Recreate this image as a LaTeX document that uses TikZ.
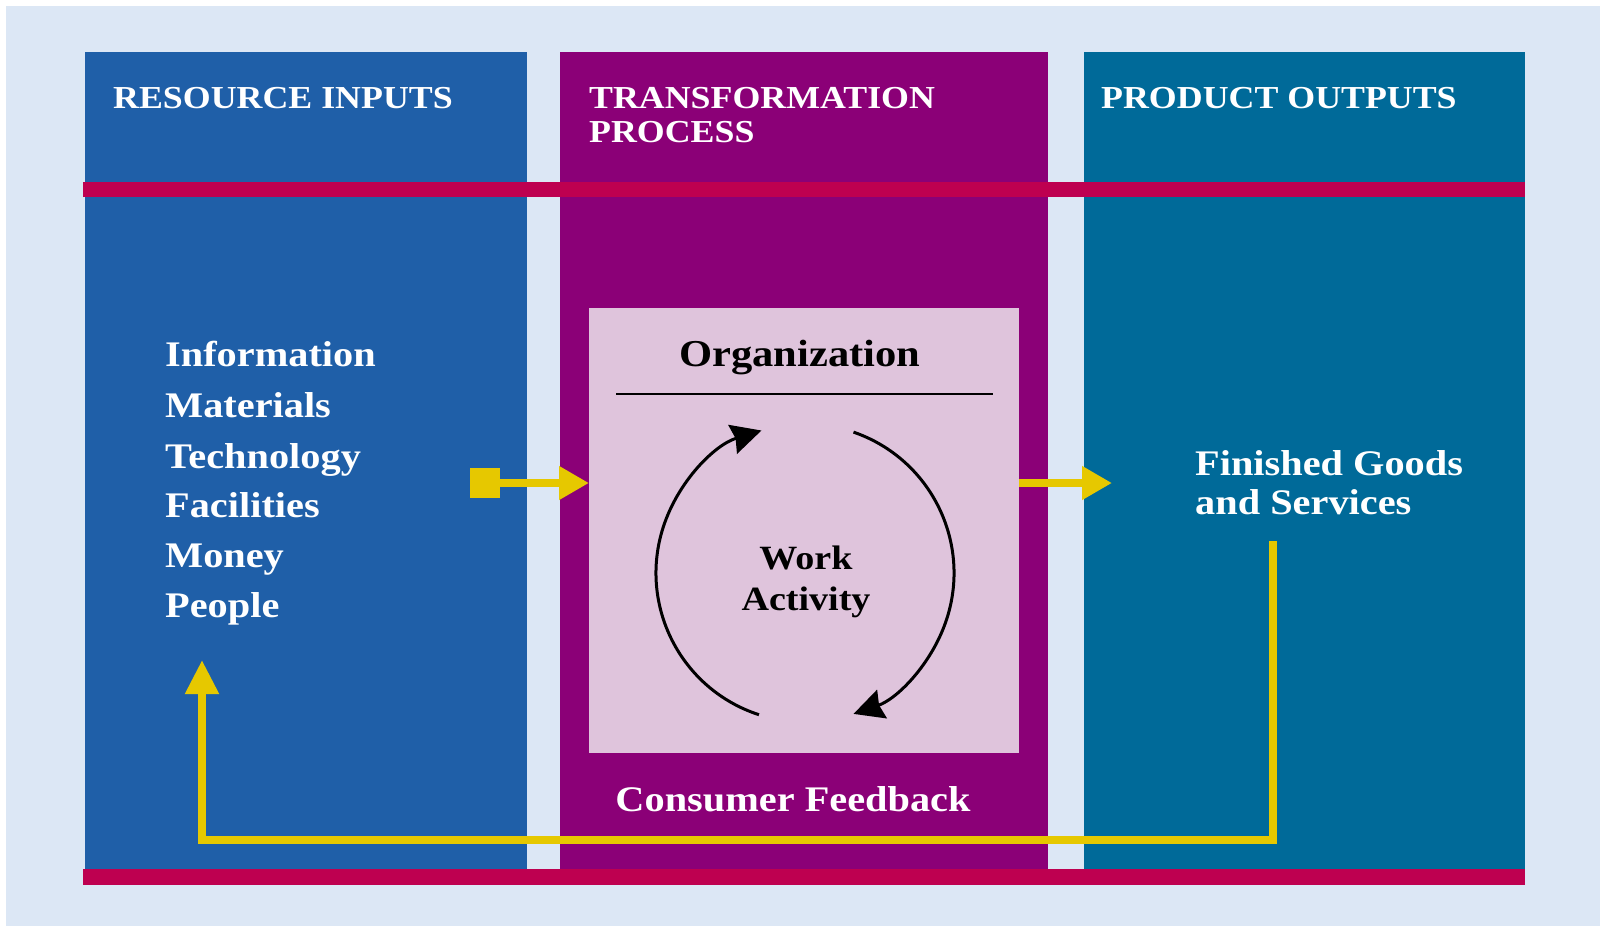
\documentclass[tikz,border=0pt]{standalone}
\usepackage{fontspec}
\setmainfont{Liberation Serif}[FakeStretch=1.12]
\usetikzlibrary{arrows.meta}
\definecolor{bgblue}{HTML}{DCE7F5}
\definecolor{colblue}{HTML}{1F5FA8}
\definecolor{colpurple}{HTML}{8B0077}
\definecolor{colteal}{HTML}{006A99}
\definecolor{barred}{HTML}{BE0050}
\definecolor{boxpink}{HTML}{DFC4DC}
\definecolor{arrowyellow}{HTML}{E6C800}
\tikzset{
  column/.style={draw=none, inner sep=0pt, outer sep=0pt, anchor=north west},
  bar/.style={fill=barred, draw=none},
  title/.style={anchor=base west, inner sep=0pt, text=white, font=\bfseries\fontsize{32}{37}\selectfont, align=left},
  item/.style={anchor=base west, inner sep=0pt, text=white, font=\bfseries\fontsize{36}{40}\selectfont},
  darktext/.style={inner sep=0pt, text=black, font=\bfseries\fontsize{38}{40}\selectfont},
  yarrow/.style={draw=arrowyellow, line width=8pt, -{Triangle[length=30pt,width=32pt]}},
  cyc/.style={draw=black, line width=3pt, -{Stealth[length=30pt,width=30pt,inset=3pt]}}
}
\begin{document}
\begin{tikzpicture}[x=1pt,y=-1pt]
\useasboundingbox (0,0) rectangle (1600,926);
\fill[white] (0,0) rectangle (1600,926);
\fill[bgblue] (6,6) rectangle (1600,926);
% columns
\node[column, fill=colblue, minimum width=442pt, minimum height=817pt] (inputs) at (85,52) {};
\node[column, fill=colpurple, minimum width=488pt, minimum height=817pt] (process) at (560,52) {};
\node[column, fill=colteal, minimum width=441pt, minimum height=817pt] (outputs) at (1084,52) {};
% bars
\fill[bar] (83,182) rectangle (1525,197);
\fill[bar] (83,869) rectangle (1525,885);
% titles
\node[title] (t1) at (113,108) {RESOURCE INPUTS};
\node[title] (t2) at (589,108) {TRANSFORMATION};
\node[title] (t3) at (589,142) {PROCESS};
\node[title] (t4) at (1101,108) {PRODUCT OUTPUTS};
% list
\node[item] (i1) at (165,366) {Information};
\node[item] (i2) at (165,417) {Materials};
\node[item] (i3) at (165,468) {Technology};
\node[item] (i4) at (165,517) {Facilities};
\node[item] (i5) at (165,567) {Money};
\node[item] (i6) at (165,617) {People};
% organization box
\node[column, fill=boxpink, minimum width=430pt, minimum height=445pt] (org) at (589,308) {};
\node[darktext] (orgt) at (800,358) {Organization};
\coordinate (ol) at (616,394);
\coordinate (or) at (993,394);
\draw[black, line width=1.5pt] (ol) -- (or);
% cycle
\coordinate (cc) at (805,573);
\draw[cyc] (cc) ++(-252:149) arc[start angle=-252, end angle=-107, radius=149];
\draw[cyc] (cc) ++(-71:149) arc[start angle=-71, end angle=71, radius=149];
\node[darktext, font=\bfseries\fontsize{34}{41}\selectfont, align=center] (work) at (806,582) {Work\\Activity};
% input arrow
\node[fill=arrowyellow, minimum size=30pt, inner sep=0pt] (sq) at (485,483) {};
\draw[yarrow] (sq.east) -- (sq.east -| org.west);
% output arrow
\coordinate (outtip) at (1112,483);
\draw[yarrow] (outtip -| org.east) -- (outtip);
% finished goods
\node[item, align=left] (fg) at (1195,475) {Finished Goods};
\node[item] (fg2) at (1195,514) {and Services};
% feedback
\coordinate (fbstart) at (1273,541);
\coordinate (fbcorner1) at (1273,840);
\coordinate (fbcorner2) at (202,840);
\coordinate (fbtip) at (202,660);
\draw[yarrow, -{Triangle[length=34pt,width=32pt]}, line cap=butt, line join=miter] (fbstart) -- (fbcorner1) -- (fbcorner2) -- (fbtip);
\node[item, anchor=center] (cf) at (793,799) {Consumer Feedback};
\end{tikzpicture}
\end{document}
